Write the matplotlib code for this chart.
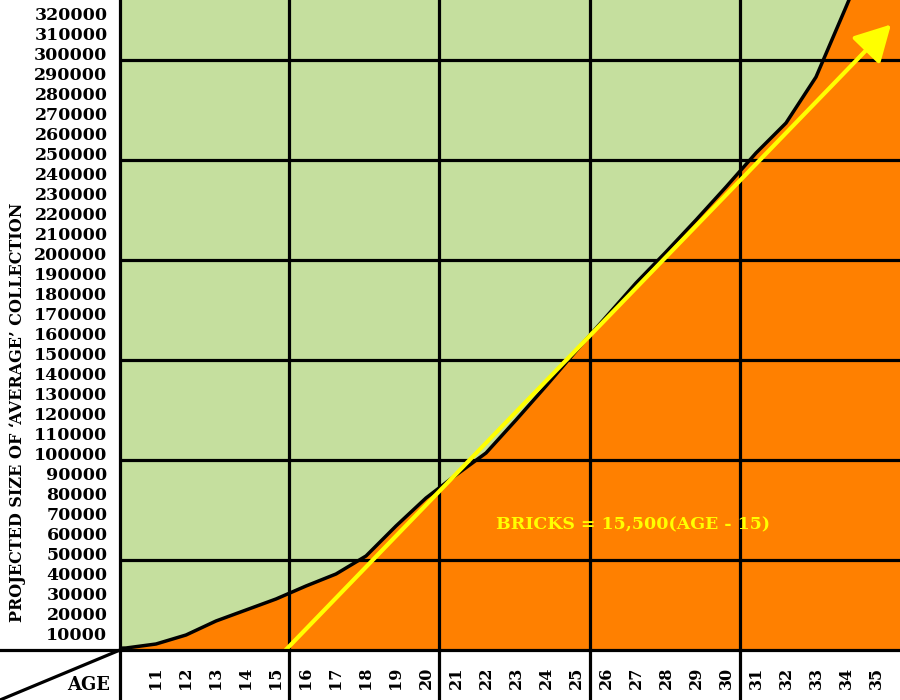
import matplotlib
matplotlib.use("Agg")
import matplotlib.pyplot as plt
from matplotlib.lines import Line2D
from matplotlib.transforms import ScaledTranslation

# Projected collection size per age
AGES = [9, 10, 11, 12, 13, 14, 15, 16, 17, 18, 19, 20, 21, 22,
        23, 24, 25, 26, 27, 28, 29, 30, 31, 32, 33, 34, 35, 36]
BRICKS = [5500, 6000, 8000, 12500, 19500, 25000, 30500, 37000, 43000, 52000,
          67000, 81000, 92500, 103500, 120000, 137000, 154500, 171500, 188500,
          204000, 220000, 236500, 253500, 268500, 291500, 326500, 362000, 400000]

TICK_AGES = list(range(11, 36))
TICK_BRICKS = list(range(10000, 320001, 10000))
GRID_BRICKS = [50000, 100000, 150000, 200000, 250000, 300000]
GRID_AGES = [15, 20, 25, 30]

# trend line: BRICKS = 15,500(AGE - 15)
TREND_RATE = 15500
TREND_ZERO_AGE = 15
TREND_END_AGE = 35.5

GREEN = "#c5df9e"
ORANGE = "#ff8000"
YELLOW = "#ffff00"
FONT = "DejaVu Serif"

YMIN, YMAX = 5000, 330000
XMIN, XMAX = 9.8, 35.8

fig = plt.figure(figsize=(9, 7), dpi=100)
ax = fig.add_axes([120 / 900, 50 / 700, 780 / 900, 650 / 700])
ax.set_facecolor(GREEN)
ax.set_xlim(XMIN, XMAX)
ax.set_ylim(YMIN, YMAX)

ax.fill_between(AGES, YMIN, BRICKS, color=ORANGE, lw=0, zorder=1)

# grid (vertical lines run down through the label strip)
for v in GRID_BRICKS:
    ax.axhline(v, color="black", lw=2.3, zorder=2)
for a in GRID_AGES:
    ax.axvline(a + 0.45, ymin=-50 / 650, ymax=1, color="black", lw=2.3,
               zorder=2, clip_on=False)
ax.axvline(XMIN, ymin=-50 / 650, ymax=1, color="black", lw=2.3,
           zorder=2, clip_on=False)
ax.axhline(YMIN, xmin=-120 / 780, xmax=1, color="black", lw=2.3,
           zorder=5, clip_on=False)

ax.plot(AGES, BRICKS, color="black", lw=2.5, zorder=3)

# trend arrow
start_age = TREND_ZERO_AGE + YMIN / TREND_RATE
ax.annotate("", xy=(TREND_END_AGE, TREND_RATE * (TREND_END_AGE - TREND_ZERO_AGE)),
            xytext=(start_age, YMIN),
            arrowprops=dict(arrowstyle="-|>,head_length=0.55,head_width=0.3",
                            mutation_scale=40, color=YELLOW, lw=3,
                            shrinkA=0, shrinkB=0),
            zorder=4)
ax.text(26.9, 67500, "BRICKS = 15,500(AGE - 15)", color=YELLOW,
        fontfamily=FONT, fontweight="bold", fontsize=12.5,
        ha="center", va="center", zorder=4)

for s in ax.spines.values():
    s.set_visible(False)

ax.set_xticks(TICK_AGES)
ax.set_xticklabels([str(a) for a in TICK_AGES], rotation=90,
                   fontfamily=FONT, fontweight="bold", fontsize=11.5)
ax.set_yticks(TICK_BRICKS)
ax.set_yticklabels([str(v) for v in TICK_BRICKS],
                   fontfamily=FONT, fontweight="bold", fontsize=12.5)
ax.tick_params(axis="both", length=0)
ax.tick_params(axis="x", pad=12)
ax.tick_params(axis="y", pad=9)
shift = ScaledTranslation(0, 7 / 100, fig.dpi_scale_trans)
for lbl in ax.get_yticklabels():
    lbl.set_transform(lbl.get_transform() + shift)

fig.text(18 / 900, 1 - 412 / 700, "PROJECTED SIZE OF \u2018AVERAGE\u2019 COLLECTION",
         rotation=90, ha="center", va="center",
         fontfamily=FONT, fontweight="bold", fontsize=11.5)
fig.text(110 / 900, 1 - 685 / 700, "AGE", ha="right", va="center",
         fontfamily=FONT, fontweight="bold", fontsize=13)
fig.add_artist(Line2D([0, 120 / 900], [0, 50 / 700], color="black", lw=2.3,
                      transform=fig.transFigure))

fig.savefig("out.png", dpi=100)
